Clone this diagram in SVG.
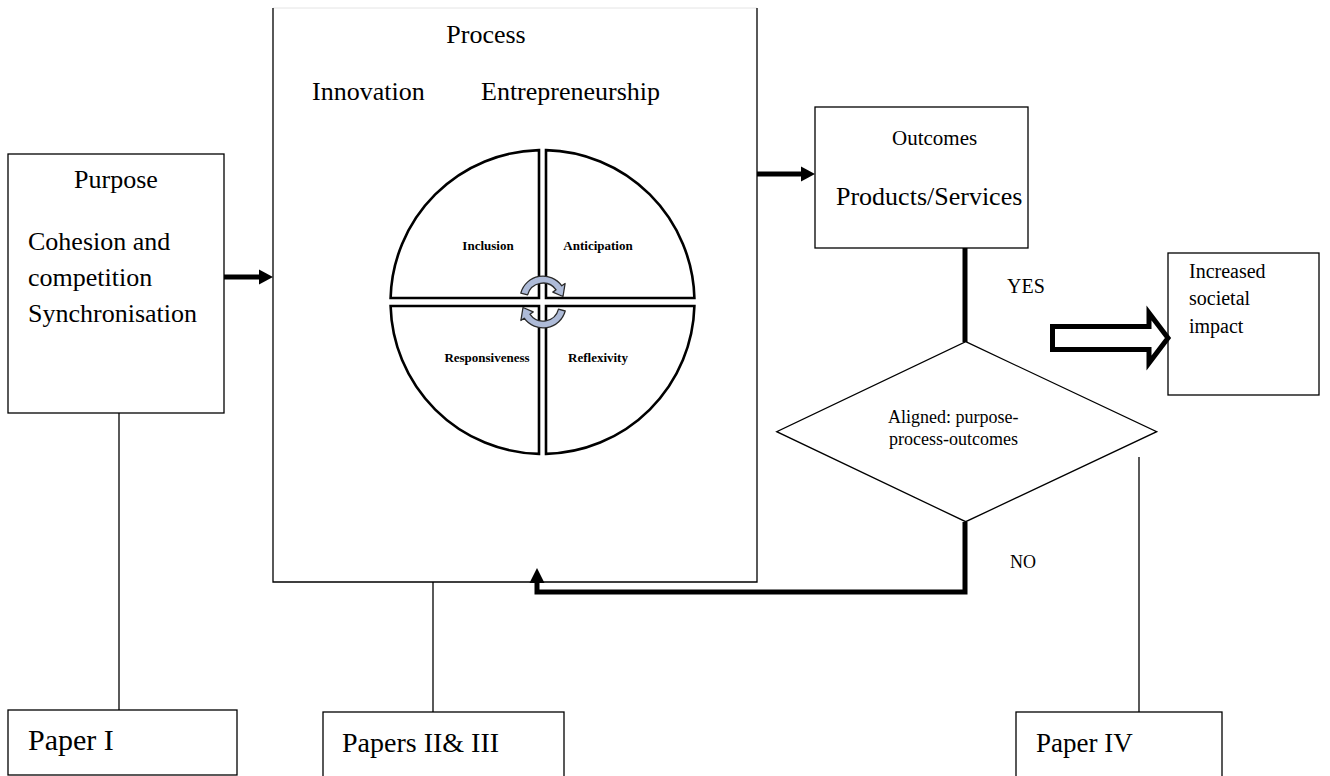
<svg xmlns="http://www.w3.org/2000/svg" width="1330" height="776" viewBox="0 0 1330 776">
  <style>
    text { font-family: "Liberation Serif", "Times New Roman", serif; fill: #000; }
    .box { fill: #fff; stroke: #000; stroke-width: 1.3; }
    .thin { fill: none; stroke: #000; stroke-width: 1.3; }
    .thick { fill: none; stroke: #000; stroke-width: 5; }
    .head { fill: #000; stroke: none; }
    .quad { fill: #fff; stroke: #000; stroke-width: 2.6; }
    .cyc { fill: #aebbd8; stroke: #2a2a2a; stroke-width: 1.3; stroke-linejoin: round; }
    .t26 { font-size: 26px; }
    .t28 { font-size: 28px; }
    .t21 { font-size: 21px; }
    .t20 { font-size: 20px; }
    .t18 { font-size: 18px; }
    .lab { font-size: 13px; font-weight: bold; }
  </style>
  <rect width="1330" height="776" fill="#fff"/>

  <!-- Purpose -->
  <g id="purpose">
    <rect class="box" x="8" y="154" width="216" height="259"/>
    <text class="t26" x="116" y="188" text-anchor="middle">Purpose</text>
    <text class="t26" x="28" y="250">Cohesion and</text>
    <text class="t26" x="28" y="286">competition</text>
    <text class="t26" x="28" y="322">Synchronisation</text>
  </g>

  <!-- Process -->
  <g id="process">
    <rect x="273" y="8" width="484" height="574" fill="#fff"/>
    <line x1="273" y1="8" x2="757" y2="8" stroke="#e4e4e4" stroke-width="1"/>
    <path class="thin" d="M273,8 V582 H757 V8"/>
    <text class="t26" x="486" y="43" text-anchor="middle">Process</text>
    <text class="t26" x="312" y="100">Innovation</text>
    <text class="t26" x="481" y="100">Entrepreneurship</text>
    <g id="wheel">
      <path class="quad" d="M539,298 V150.1 A152,152 0 0 0 390.6,298 Z"/>
      <path class="quad" d="M546,298 V150.1 A152,152 0 0 1 694.4,298 Z"/>
      <path class="quad" d="M539,306 V453.9 A152,152 0 0 1 390.6,306 Z"/>
      <path class="quad" d="M546,306 V453.9 A152,152 0 0 0 694.4,306 Z"/>
      <text class="lab" x="488" y="250" text-anchor="middle">Inclusion</text>
      <text class="lab" x="598" y="250" text-anchor="middle">Anticipation</text>
      <text class="lab" x="487" y="362" text-anchor="middle">Responsiveness</text>
      <text class="lab" x="598" y="362" text-anchor="middle">Reflexivity</text>
      <path class="cyc" d="M520.8,293.1 A23,23 0 0 1 561.8,285.8 L565.1,283.5 L563,296.5 L552.8,292.1 L556.1,289.8 A16,16 0 0 0 527.6,294.9 Z"/>
      <path class="cyc" d="M565.2,311 A23,23 0 0 1 524.2,318.2 L520.9,320.5 L523,307.5 L533.2,311.9 L529.9,314.2 A16,16 0 0 0 558.5,309.1 Z"/>
    </g>
  </g>

  <!-- Outcomes -->
  <g id="outcomes">
    <rect class="box" x="815" y="107" width="213" height="141"/>
    <text class="t21" x="892" y="145">Outcomes</text>
    <text class="t26" x="836" y="205">Products/Services</text>
  </g>

  <!-- Decision -->
  <g id="aligned">
    <polygon class="box" points="965.7,341.7 1156.7,431.7 965.7,521.7 776.7,431.7"/>
    <text class="t18" x="888" y="423">Aligned: purpose-</text>
    <text class="t18" x="889" y="445">process-outcomes</text>
  </g>

  <!-- Impact -->
  <g id="impact">
    <rect class="box" x="1168" y="253" width="151" height="142"/>
    <text class="t20" x="1189" y="278">Increased</text>
    <text class="t20" x="1189" y="305">societal</text>
    <text class="t20" x="1189" y="333">impact</text>
  </g>

  <!-- Papers -->
  <g id="paper1">
    <rect class="box" x="8" y="710" width="229" height="65"/>
    <text class="t28" x="28" y="750" style="font-size:30px">Paper I</text>
  </g>
  <g id="paper23">
    <rect class="box" x="323" y="712" width="241" height="70"/>
    <text class="t28" x="342" y="752">Papers II&amp; III</text>
  </g>
  <g id="paper4">
    <rect class="box" x="1016" y="712" width="206" height="70"/>
    <text class="t28" x="1036" y="752" style="font-size:27px">Paper IV</text>
  </g>

  <!-- connectors -->
  <g id="connectors">
    <line class="thin" x1="119" y1="413" x2="119" y2="710"/>
    <line class="thin" x1="433" y1="582" x2="433" y2="712"/>
    <line class="thin" x1="1139" y1="457" x2="1139" y2="712"/>
    <!-- purpose to process -->
    <line class="thick" x1="224" y1="277" x2="261" y2="277"/>
    <polygon class="head" points="259,269.5 273,277 259,284.5"/>
    <!-- process to outcomes -->
    <line class="thick" x1="757" y1="174" x2="803" y2="174"/>
    <polygon class="head" points="801,166.5 815,174 801,181.5"/>
    <!-- outcomes to decision -->
    <line class="thick" x1="965" y1="248" x2="965" y2="342"/>
    <!-- NO: feedback loop back into process -->
    <polyline class="thick" points="965,522 965,592 537,592 537,581" stroke-linejoin="miter"/>
    <polygon class="head" points="529.5,583 537,568 544.5,583"/>
    <!-- YES: hollow block arrow -->
    <path class="thick" d="M1052.5,326.5 H1149 V313 L1168,338 L1149,363 V349.5 H1052.5 Z" stroke-linejoin="miter"/>
    <text class="t20" x="1007" y="293">YES</text>
    <text class="t18" x="1010" y="568">NO</text>
  </g>
</svg>
